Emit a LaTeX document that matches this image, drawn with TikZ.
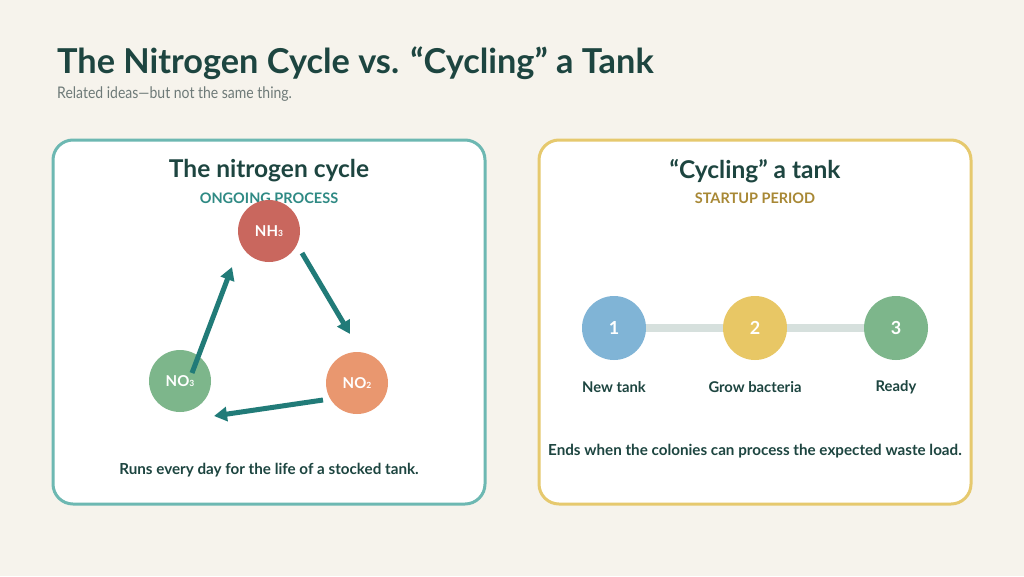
\documentclass[tikz,border=0pt]{standalone}
\usepackage{fontspec}
\setmainfont{Lato}
\usetikzlibrary{arrows.meta}
\definecolor{bg}{HTML}{F6F3EC}
\definecolor{ink}{HTML}{1D4540}
\definecolor{sub}{HTML}{6E7A78}
\definecolor{tealb}{HTML}{6DB8B2}
\definecolor{goldb}{HTML}{E6C96E}
\definecolor{tealt}{HTML}{2F8A84}
\definecolor{goldt}{HTML}{A88835}
\definecolor{arr}{HTML}{217B78}
\definecolor{cnh}{HTML}{C9675E}
\definecolor{cno2}{HTML}{E9976F}
\definecolor{cno3}{HTML}{7DB68B}
\definecolor{cblue}{HTML}{80B4D6}
\definecolor{cyel}{HTML}{E8C765}
\definecolor{cgrn}{HTML}{7DB68B}
\definecolor{track}{HTML}{D6E0DD}
\newcommand{\chemsub}[1]{\raisebox{-0.5pt}{\fontsize{8.5}{9}\selectfont #1}}
\tikzset{
  card/.style={draw, line width=3pt, fill=white, rounded corners=20pt},
  disc/.style={circle, minimum size=62pt, inner sep=0pt, text=white, font=\fontsize{15}{17}\selectfont\bfseries},
  stepdisc/.style={circle, minimum size=64pt, inner sep=0pt, text=white, font=\fontsize{18}{20}\selectfont\bfseries},
  cardtitle/.style={text=ink, font=\fontsize{24.5}{28}\selectfont\bfseries},
  tag/.style={font=\fontsize{14.5}{16}\selectfont\bfseries},
  body/.style={text=ink, font=\fontsize{15.2}{18}\selectfont\bfseries},
  steplabel/.style={text=ink, font=\fontsize{14.8}{18}\selectfont\bfseries},
  flow/.style={draw=arr, line width=5pt, -{Triangle[length=13pt,width=14pt]}},
}
\begin{document}
\begin{tikzpicture}[x=1pt,y=-1pt]
\fill[bg] (0,0) rectangle (1024,576);
\useasboundingbox (0,0) rectangle (1024,576);
% titles
\node[anchor=base west, text=ink, font=\fontsize{34.3}{38}\selectfont\bfseries, inner sep=0] (title) at (57,73) {The Nitrogen Cycle vs. “Cycling” a Tank};
\node[anchor=base west, text=sub, font=\fontsize{16}{19}\selectfont, inner sep=0] (subtitle) at (57,98) {\scalebox{0.875}[1]{Related ideas—but not the same thing.}};
% cards
\path[card, draw=tealb] (53,140) rectangle (485,504);
\path[card, draw=goldb] (539,140) rectangle (971,504);
% left card
\node[cardtitle] (lt) at (269,171) {The nitrogen cycle};
\node[tag, text=tealt] (ltag) at (269,198) {ONGOING PROCESS};
\node[disc, fill=cnh] (nh3) at (269,231) {NH\chemsub{3}};
\node[disc, fill=cno2] (no2) at (357,383) {NO\chemsub{2}};
\node[disc, fill=cno3] (no3) at (180,381) {NO\chemsub{3}};
\coordinate (a1s) at (302,253);
\coordinate (a1e) at (350,334);
\coordinate (a2s) at (323,400);
\coordinate (a2e) at (214,416);
\coordinate (a3s) at (192,373);
\coordinate (a3e) at (232,267);
\draw[flow] (a1s) -- (a1e);
\draw[flow] (a2s) -- (a2e);
\draw[flow] (a3s) -- (a3e);
\node[body] (lbody) at (269,470) {Runs every day for the life of a stocked tank.};
% right card
\node[cardtitle] (rt) at (755,171) {“Cycling” a tank};
\node[tag, text=goldt] (rtag) at (755,198) {STARTUP PERIOD};
\node[stepdisc, fill=cblue] (s1) at (614,328) {1};
\node[stepdisc, fill=cyel] (s2) at (755,328) {2};
\node[stepdisc, fill=cgrn] (s3) at (896,328) {3};
\draw[track, line width=8pt] (s1.east) -- (s2.west);
\draw[track, line width=8pt] (s2.east) -- (s3.west);
\node[steplabel] (l1) at (614,387) {New tank};
\node[steplabel] (l2) at (755,387) {Grow bacteria};
\node[steplabel] (l3) at (896,387) {Ready};
\node[body] (rbody) at (755,451) {Ends when the colonies can process the expected waste load.};
\end{tikzpicture}
\end{document}
